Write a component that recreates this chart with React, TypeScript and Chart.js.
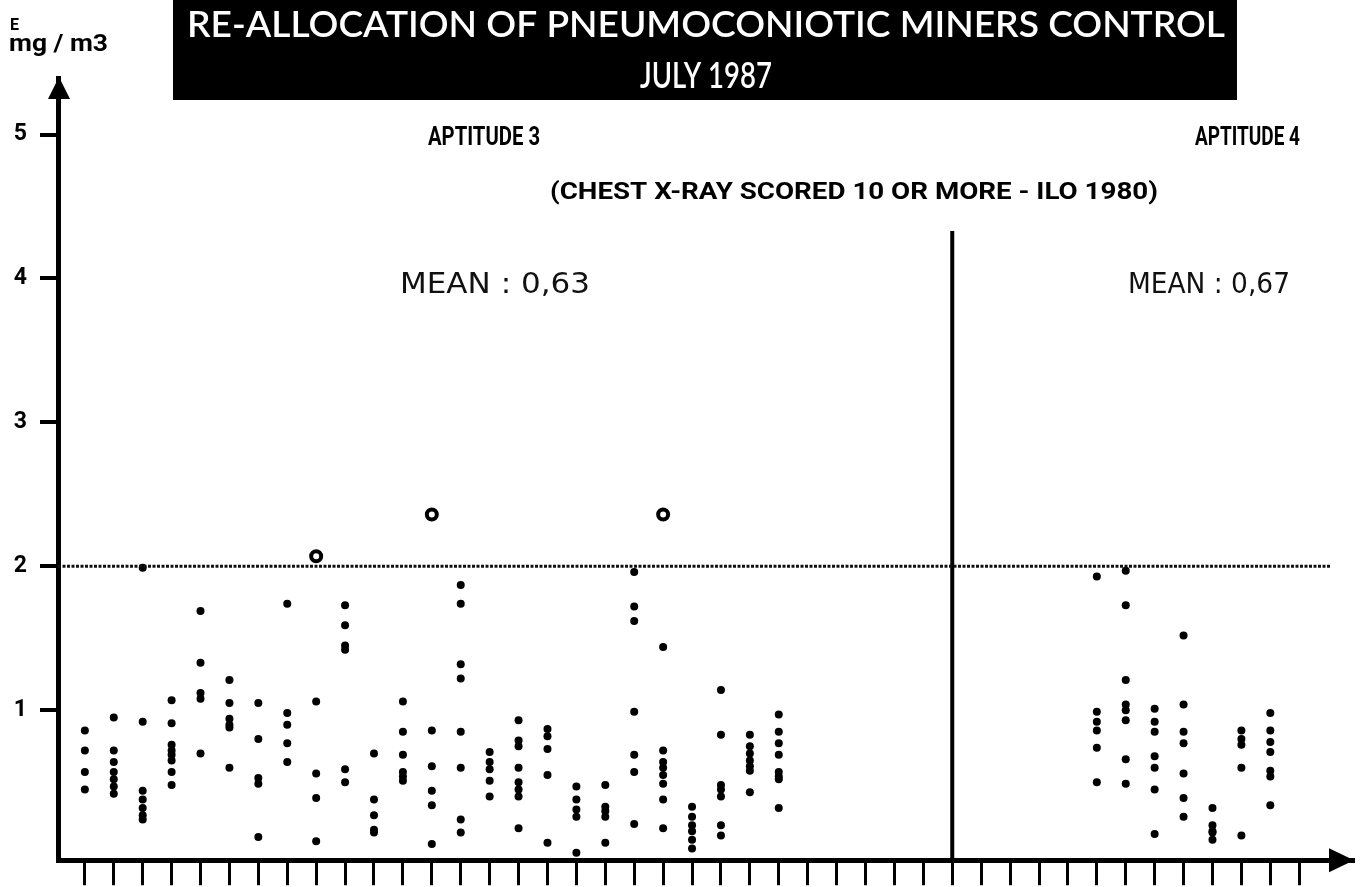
import React, { useEffect, useRef } from "react";
import { Chart, registerables } from "chart.js";

Chart.register(...registerables);

// ---------- data ----------
const xTickValues = [
  0, 1, 2, 3, 4, 5, 6, 7, 8, 9, 10, 11, 12, 13, 14, 15, 16, 17, 18, 19, 20,
  21, 22, 23, 24, 25, 26, 27, 28, 29, 30, 31, 32, 33, 34, 35, 36, 37, 38, 39,
  40, 41, 42,
];
const yTickValues = [1, 2, 3, 4, 5];

const apt3Columns = [
  0, 1, 2, 3, 4, 5, 6, 7, 8, 9, 10, 11, 12, 13, 14, 15, 16, 17, 18, 19, 20,
  21, 22, 23, 24,
];
const apt3Values: number[][] = [
  [0.86, 0.72, 0.57, 0.45],
  [0.95, 0.72, 0.64, 0.57, 0.52, 0.47, 0.42],
  [1.99, 0.92, 0.44, 0.38, 0.32, 0.27, 0.24],
  [1.07, 0.91, 0.76, 0.72, 0.69, 0.65, 0.57, 0.48],
  [1.69, 1.33, 1.12, 1.08, 0.7],
  [1.21, 1.05, 0.94, 0.9, 0.88, 0.6],
  [1.05, 0.8, 0.53, 0.49, 0.12],
  [1.74, 0.98, 0.9, 0.77, 0.64],
  [1.06, 0.56, 0.39, 0.09],
  [1.73, 1.59, 1.45, 1.42, 0.59, 0.5],
  [0.7, 0.38, 0.27, 0.17, 0.15],
  [1.06, 0.85, 0.69, 0.57, 0.54, 0.51],
  [0.86, 0.61, 0.44, 0.34, 0.07],
  [1.87, 1.74, 1.32, 1.22, 0.85, 0.6, 0.24, 0.15],
  [0.71, 0.64, 0.59, 0.51, 0.4],
  [0.93, 0.79, 0.75, 0.6, 0.5, 0.45, 0.4, 0.18],
  [0.87, 0.82, 0.73, 0.55, 0.08],
  [0.47, 0.38, 0.31, 0.26, 0.01],
  [0.48, 0.33, 0.3, 0.26, 0.08],
  [1.96, 1.72, 1.62, 0.99, 0.69, 0.57, 0.21],
  [1.44, 0.72, 0.64, 0.6, 0.55, 0.49, 0.38, 0.18],
  [0.33, 0.26, 0.2, 0.16, 0.1, 0.04],
  [1.14, 0.83, 0.48, 0.45, 0.4, 0.2, 0.13],
  [0.83, 0.75, 0.7, 0.65, 0.61, 0.58, 0.43],
  [0.97, 0.85, 0.77, 0.69, 0.57, 0.54, 0.52, 0.32],
];

const apt4Columns = [35, 36, 37, 38, 39, 40, 41];
const apt4Values: number[][] = [
  [1.93, 0.99, 0.92, 0.86, 0.74, 0.5],
  [1.97, 1.73, 1.21, 1.04, 1.0, 0.93, 0.66, 0.49],
  [1.01, 0.92, 0.85, 0.68, 0.6, 0.45, 0.14],
  [1.52, 1.04, 0.85, 0.77, 0.56, 0.39, 0.26],
  [0.32, 0.2, 0.16, 0.15, 0.1],
  [0.86, 0.8, 0.76, 0.6, 0.13],
  [0.98, 0.86, 0.78, 0.71, 0.58, 0.54, 0.34],
];

const outlierColumns = [8, 12, 20];
const outlierValues = [2.07, 2.36, 2.36];

const limitValue = 2;
const limitEnd = 43.07;
const dividerColumn = 30;
const dividerTop = 4.33;

const X_MIN = -0.929;
const X_MAX = 43.86;
const Y_MIN = -0.042;
const Y_MAX = 5.393;

const titleLines = ["RE-ALLOCATION OF PNEUMOCONIOTIC MINERS CONTROL", "JULY 1987"];
const groupLabels = ["APTITUDE 3", "APTITUDE 4"];
const subLabel = "(CHEST X-RAY SCORED 10 OR MORE - ILO 1980)";
const meanLabels = ["MEAN : 0,63", "MEAN : 0,67"];
const unitLabels = ["E", "mg / m3"];

function toPoints(cols: number[], vals: number[][]) {
  const out: { x: number; y: number }[] = [];
  cols.forEach((c, i) => vals[i].forEach((v) => out.push({ x: c, y: v })));
  return out;
}

function fitText(
  ctx: CanvasRenderingContext2D,
  text: string,
  left: number,
  baseline: number,
  width: number,
  size: number,
  weight: string,
  family: string,
  color: string
) {
  ctx.save();
  ctx.font = `${weight} ${size}px ${family}`;
  const w = ctx.measureText(text).width || 1;
  ctx.translate(left, baseline);
  ctx.scale(width / w, 1);
  ctx.fillStyle = color;
  ctx.textAlign = "left";
  ctx.textBaseline = "alphabetic";
  ctx.fillText(text, 0, 0);
  ctx.restore();
}

const decorPlugin = {
  id: "decor",
  afterDraw(chart: any) {
    const ctx: CanvasRenderingContext2D = chart.ctx;
    const area = chart.chartArea;
    ctx.save();
    // title box
    ctx.fillStyle = "#000";
    ctx.fillRect(173, 0, 1064, 100);
    const titleFont = "Lato, 'Liberation Sans', sans-serif";
    fitText(ctx, titleLines[0], 187, 37, 1038, 36, "600", titleFont, "#fff");
    fitText(ctx, titleLines[1], 640, 88, 132, 36, "600", titleFont, "#fff");

    const boldFont = "Roboto, 'Liberation Sans', sans-serif";
    fitText(ctx, groupLabels[0], 428, 145, 112, 25, "bold", boldFont, "#000");
    fitText(ctx, groupLabels[1], 1195, 145, 105, 25, "bold", boldFont, "#000");
    fitText(ctx, subLabel, 550, 199, 608, 24, "bold", boldFont, "#000");

    const meanFont = "'DejaVu Sans', sans-serif";
    fitText(ctx, meanLabels[0], 400, 293, 190, 29, "normal", meanFont, "#111");
    fitText(ctx, meanLabels[1], 1128, 293, 162, 29, "normal", meanFont, "#111");

    const unitFont = "Roboto, 'Liberation Sans', sans-serif";
    fitText(ctx, unitLabels[0], 10, 30, 9, 16, "bold", unitFont, "#000");
    fitText(ctx, unitLabels[1], 9, 51, 99, 23, "bold", unitFont, "#000");

    // axis arrows
    ctx.fillStyle = "#000";
    const ax = area.left + 1;
    ctx.beginPath();
    ctx.moveTo(ax, area.top - 1);
    ctx.lineTo(ax - 11, area.top + 21);
    ctx.lineTo(ax + 11, area.top + 21);
    ctx.closePath();
    ctx.fill();
    const ay = area.bottom;
    ctx.beginPath();
    ctx.moveTo(area.right + 1, ay);
    ctx.lineTo(area.right - 24, ay - 12);
    ctx.lineTo(area.right - 24, ay + 12);
    ctx.closePath();
    ctx.fill();
    ctx.restore();
  },
};

export default function App() {
  const canvasRef = useRef<HTMLCanvasElement | null>(null);

  useEffect(() => {
    if (!canvasRef.current) return;
    const chart = new Chart(canvasRef.current, {
      type: "scatter",
      data: {
        datasets: [
          {
            label: "Limit",
            data: [
              { x: X_MIN, y: limitValue },
              { x: limitEnd, y: limitValue },
            ],
            showLine: true,
            borderColor: "#111",
            borderWidth: 3,
            borderDash: [3, 1.5],
            pointRadius: 0,
          },
          {
            label: "Divider",
            data: [
              { x: dividerColumn, y: Y_MIN },
              { x: dividerColumn, y: dividerTop },
            ],
            showLine: true,
            borderColor: "#000",
            borderWidth: 4,
            pointRadius: 0,
          },
          {
            label: "Aptitude 3",
            data: toPoints(apt3Columns, apt3Values),
            pointRadius: 4,
            pointBackgroundColor: "#000",
            pointBorderWidth: 0,
          },
          {
            label: "Aptitude 4",
            data: toPoints(apt4Columns, apt4Values),
            pointRadius: 4,
            pointBackgroundColor: "#000",
            pointBorderWidth: 0,
          },
          {
            label: "Outliers",
            data: outlierColumns.map((c, i) => ({ x: c, y: outlierValues[i] })),
            pointRadius: 5,
            pointBackgroundColor: "#fff",
            pointBorderColor: "#000",
            pointBorderWidth: 4,
          },
        ],
      },
      options: {
        animation: false,
        responsive: true,
        maintainAspectRatio: false,
        layout: { padding: { top: 78, right: 2, left: 0, bottom: 0 } },
        plugins: {
          legend: { display: false },
          tooltip: { enabled: false },
          title: { display: false },
        },
        scales: {
          x: {
            type: "linear",
            min: X_MIN,
            max: X_MAX,
            afterBuildTicks: (scale: any) => {
              scale.ticks = xTickValues.map((v) => ({ value: v }));
            },
            afterFit: (scale: any) => {
              scale.height = 25;
            },
            ticks: { display: false },
            grid: {
              drawOnChartArea: false,
              drawTicks: true,
              tickLength: 25,
              tickWidth: 3,
              tickColor: "#000",
              color: "#000",
              lineWidth: 3,
            },
            border: { display: true, color: "#000", width: 5 },
          },
          y: {
            type: "linear",
            min: Y_MIN,
            max: Y_MAX,
            afterBuildTicks: (scale: any) => {
              scale.ticks = yTickValues.map((v) => ({ value: v }));
            },
            afterFit: (scale: any) => {
              scale.width = 58;
            },
            ticks: {
              color: "#000",
              padding: 13,
              font: { family: "Roboto, 'Liberation Sans', sans-serif", weight: "bold", size: 23 },
              callback: (v: any) => String(v),
            },
            grid: {
              drawOnChartArea: false,
              drawTicks: true,
              tickLength: 18,
              tickWidth: 4,
              tickColor: "#000",
              color: "#000",
              lineWidth: 4,
            },
            border: { display: true, color: "#000", width: 5 },
          },
        },
      } as any,
      plugins: [decorPlugin],
    });
    return () => chart.destroy();
  }, []);

  return (
    <div style={{ position: "fixed", left: 0, top: 0, width: 1362, height: 887, background: "#fff" }}>
      <canvas ref={canvasRef} />
    </div>
  );
}
